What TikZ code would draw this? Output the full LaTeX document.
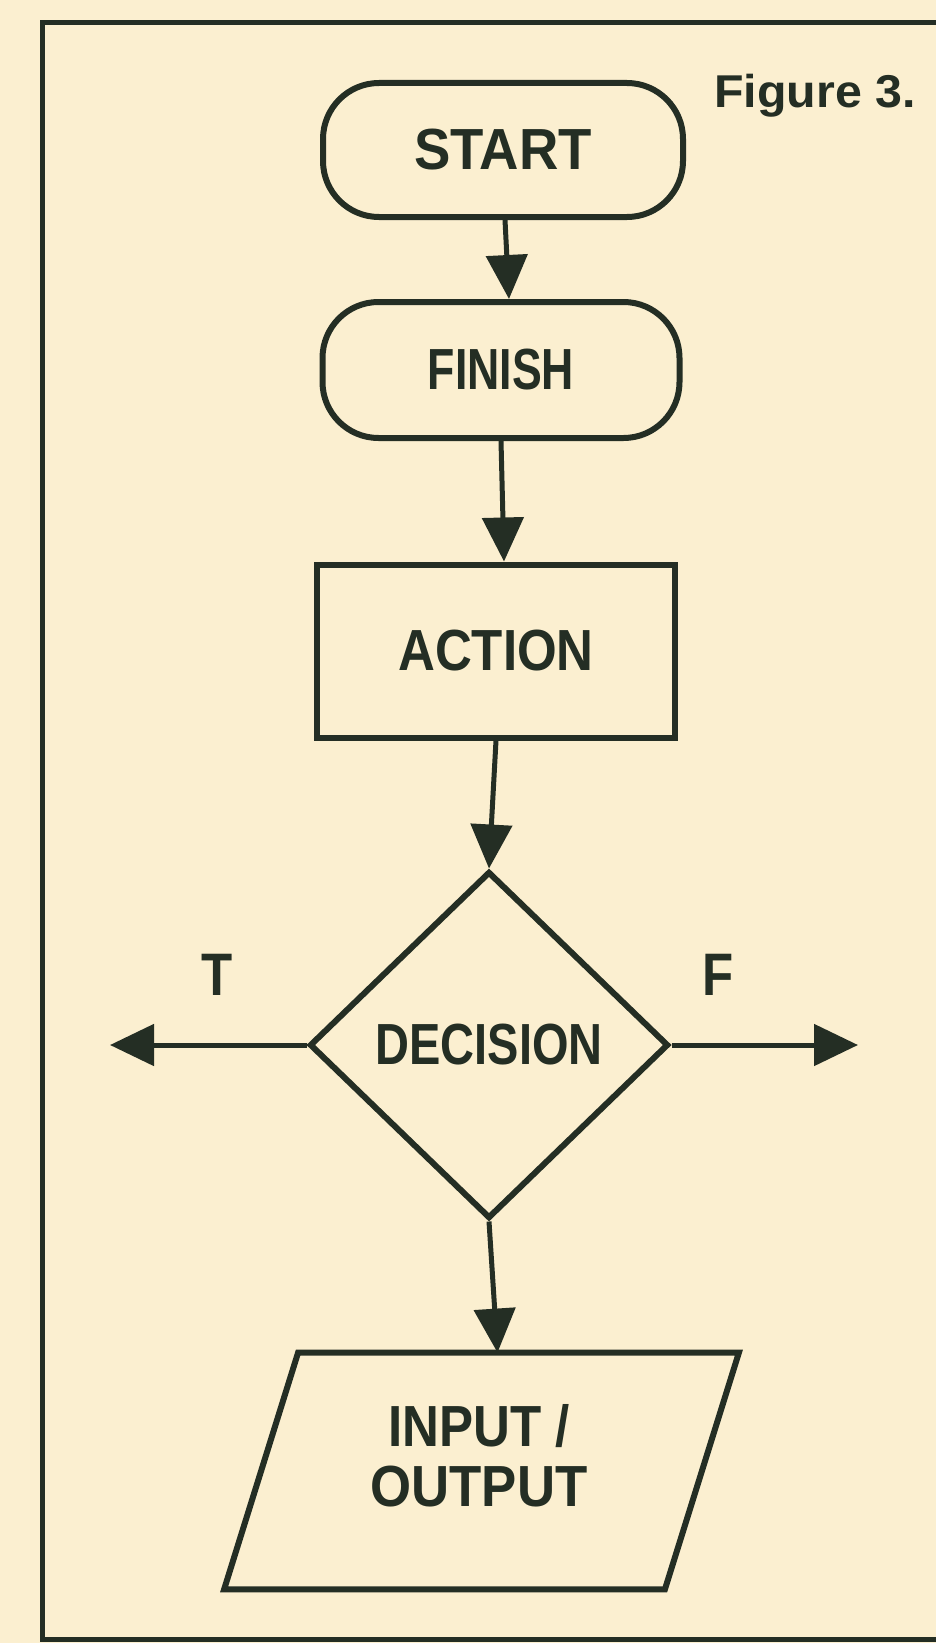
\documentclass[tikz,border=0pt]{standalone}
\usepackage{fontspec}
\usepackage{graphicx}
\setmainfont{Liberation Sans}
\usetikzlibrary{shapes.geometric,arrows.meta,calc}
\definecolor{paper}{RGB}{251,239,208}
\definecolor{ink}{RGB}{36,46,36}
\newcommand{\sx}[2]{\scalebox{#1}[1]{#2}}
\begin{document}
\begin{tikzpicture}[x=0.5pt,y=-0.5pt,
  lbl/.style={font=\bfseries\fontsize{29}{30}\selectfont, text=ink, inner sep=0pt},
  shp/.style={draw=ink, line width=3pt, lbl, align=center},
  term/.style={shp, rectangle, rounded corners=28pt},
  box/.style={shp, rectangle},
  dec/.style={shp, diamond},
  conn/.style={draw=ink, line width=2.5pt, -{Triangle[length=22pt,width=20.5pt]}}
]
\useasboundingbox (0,0) rectangle (936,1643);
\fill[paper] (0,0) rectangle (936,1643);
% frame
\draw[ink, line width=2.5pt] (960,23) -- (42,23) -- (42,1639) -- (960,1639);
\node[lbl, font=\bfseries\fontsize{23}{24}\selectfont, anchor=base] (fig) at (815,108) {\sx{1.05}{Figure 3.}};
% nodes
\node[term, minimum width=180pt, minimum height=67pt] (start) at (503,150) {\sx{0.94}{START}};
\node[term, minimum width=178.5pt, minimum height=68pt] (finish) at (501,370) {\sx{0.77}{FINISH}};
\node[box, minimum width=179pt, minimum height=86.5pt] (action) at (496,651) {\sx{0.88}{ACTION}};
\node[dec, minimum width=179.5pt, minimum height=173.5pt] (decision) at (489,1045) {\sx{0.81}{DECISION}};
\node[minimum width=220pt, minimum height=118pt, inner sep=0pt] (io) at (481.5,1471) {};
\draw[ink, line width=3pt, line join=miter]
  ($(io.north west)+(37,0)$) -- ($(io.north east)+(37,0)$) --
  ($(io.south east)+(-37,0)$) -- ($(io.south west)+(-37,0)$) -- cycle;
\node[lbl, align=center] (iotext) at (479,1456) {\sx{0.88}{INPUT /}\\[0pt]\sx{0.91}{OUTPUT}};
\coordinate (tend) at (110,1045);
\coordinate (fend) at (858,1045);
% connectors
\draw[conn] ($(start.south)+(2,0)$) -- ($(finish.north)+(8,0)$);
\draw[conn] (finish.south) -- ($(action.north)+(8,0)$);
\draw[conn] (action.south) -- (decision.north);
\draw[conn] (decision.south) -- ($(io.north)+(16,0)$);
\draw[conn] (decision.west) -- (tend);
\draw[conn] (decision.east) -- (fend);
\node[lbl, font=\bfseries\fontsize{30}{30}\selectfont] (tlbl) at (217,975) {\sx{0.85}{T}};
\node[lbl, font=\bfseries\fontsize{30}{30}\selectfont] (flbl) at (718,975) {\sx{0.85}{F}};
\end{tikzpicture}
\end{document}
